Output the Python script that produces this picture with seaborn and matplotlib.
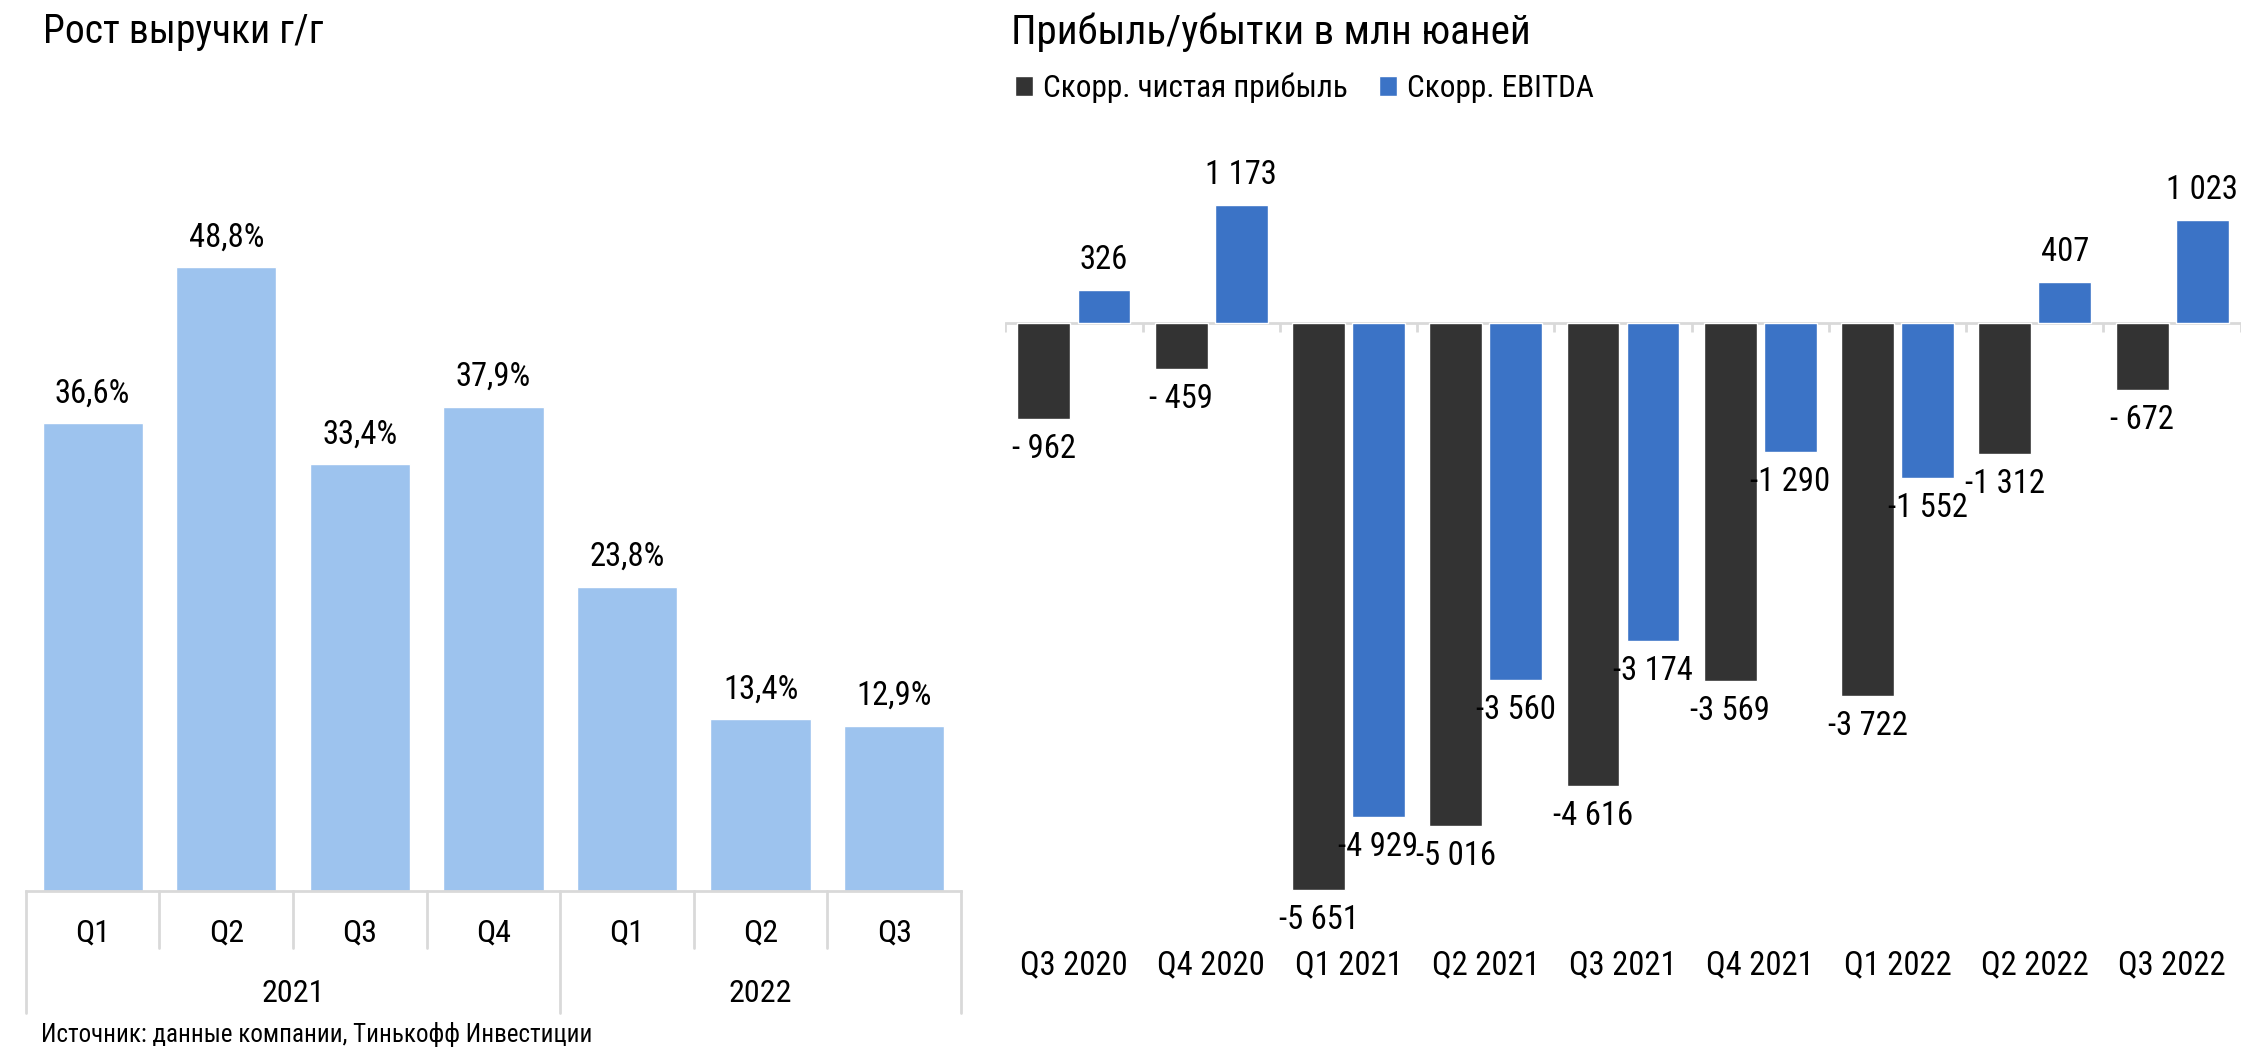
import pandas as pd
import numpy as np
import seaborn as sns
import matplotlib.pyplot as plt
from matplotlib import font_manager

# data for the left chart (revenue growth y/y)
growth_keys = ['2021 Q1', '2021 Q2', '2021 Q3', '2021 Q4', '2022 Q1', '2022 Q2', '2022 Q3']
growth_quarters = ['Q1', 'Q2', 'Q3', 'Q4', 'Q1', 'Q2', 'Q3']
growth_years = ['2021', '2022']
growth_values = [36.6, 48.8, 33.4, 37.9, 23.8, 13.4, 12.9]

# data for the right chart (profit / loss, mln yuan)
periods = ['Q3 2020', 'Q4 2020', 'Q1 2021', 'Q2 2021', 'Q3 2021', 'Q4 2021', 'Q1 2022', 'Q2 2022', 'Q3 2022']
net_profit = [-962, -459, -5651, -5016, -4616, -3569, -3722, -1312, -672]
ebitda = [326, 1173, -4929, -3560, -3174, -1290, -1552, 407, 1023]
series_names = ['Скорр. чистая прибыль', 'Скорр. EBITDA']

light_blue = '#9dc3ee'
dark = '#333333'
blue = '#3b73c6'
grid_grey = '#d9d9d9'

sns.set_style('white')
# pick a narrow font if there is one
installed = {f.name for f in font_manager.fontManager.ttflist}
preferred = ['Roboto Condensed', 'Liberation Sans Narrow', 'Open Sans Condensed', 'Roboto', 'Liberation Sans']
chosen = [f for f in preferred if f in installed][:1]
plt.rcParams['font.family'] = chosen + ['DejaVu Sans']
plt.rcParams['text.color'] = 'black'
plt.rcParams['xtick.color'] = 'black'

fig = plt.figure(figsize = (22.52, 10.64), dpi = 100)

"""Left chart"""
ax1 = fig.add_axes([0.0115, 0.163, 0.4152, 0.66])
df_growth = pd.DataFrame({'key': growth_keys, 'value': growth_values})
sns.barplot(data = df_growth, x = 'key', y = 'value', color = light_blue, width = 0.75, saturation = 1, ax = ax1)
ax1.set_ylim(0, 55)
ax1.set_xlim(-0.5, len(growth_keys) - 0.5)
ax1.set_xlabel('')
ax1.set_ylabel('')
ax1.set_yticks([])
ax1.set_xticks(range(len(growth_keys)))
ax1.set_xticklabels(growth_quarters, fontsize = 23)
ax1.tick_params(axis = 'x', length = 0, pad = 20)
for s in ['top', 'right', 'left']:
  ax1.spines[s].set_visible(False)
ax1.spines['bottom'].set_color(grid_grey)
ax1.spines['bottom'].set_linewidth(2)
ax1.bar_label(ax1.containers[0], labels = [f'{v:.1f}%'.replace('.', ',') for v in growth_values], padding = 10, fontsize = 23.5)

# separators below the axis (quarters and years)
trans = ax1.get_xaxis_transform()
for i in range(len(growth_keys) + 1):
  x = i - 0.5
  low = -0.174 if x in (-0.5, 3.5, 6.5) else -0.082
  ax1.plot([x, x], [0, low], color = grid_grey, lw = 2, transform = trans, clip_on = False)
year_centers = [1.5, 5.0]
for yc, yr in zip(year_centers, growth_years):
  ax1.text(yc, -0.146, yr, ha = 'center', va = 'center', fontsize = 23, transform = trans)

"""Right chart"""
ax2 = fig.add_axes([0.4464, 0.131, 0.5486, 0.707])
df_profit = pd.DataFrame({
  'period': periods * 2,
  'metric': [series_names[0]] * len(periods) + [series_names[1]] * len(periods),
  'value': net_profit + ebitda
})
sns.barplot(data = df_profit, x = 'period', y = 'value', hue = 'metric', hue_order = series_names,
            palette = [dark, blue], width = 0.875, gap = 0.12, saturation = 1, ax = ax2)
ax2.set_ylim(-6000, 1500)
ax2.set_xlim(-0.5, len(periods) - 0.5)
ax2.set_xlabel('')
ax2.set_ylabel('')
ax2.set_yticks([])
ax2.tick_params(axis = 'x', length = 0, pad = 18, labelsize = 23.5)
for s in ['top', 'right', 'left', 'bottom']:
  ax2.spines[s].set_visible(False)
ax2.axhline(0, color = grid_grey, lw = 2, zorder = 0)
ax2.vlines([i - 0.5 for i in range(len(periods) + 1)], -90, 0, color = grid_grey, lw = 2)

def fmt(v):
  s = f'{abs(v):,}'.replace(',', ' ')
  if v < 0:
    return '- ' + s if abs(v) < 1000 else '-' + s
  return s

for cont, vals in zip(ax2.containers, [net_profit, ebitda]):
  ax2.bar_label(cont, labels = [fmt(v) for v in vals], padding = 10, fontsize = 23.5)

handles, labels = ax2.get_legend_handles_labels()
ax2.legend(handles, labels, loc = 'upper left', bbox_to_anchor = (0.438, 0.958), bbox_transform = fig.transFigure,
           ncol = 2, frameon = False, fontsize = 22.5, handlelength = 0.6, handleheight = 0.6,
           handletextpad = 0.3, columnspacing = 1.0)

# titles and source
fig.text(0.019, 0.97, 'Рост выручки г/г', fontsize = 28.5, va = 'center', ha = 'left')
fig.text(0.449, 0.97, 'Прибыль/убытки в млн юаней', fontsize = 29.5, va = 'center', ha = 'left')
fig.text(0.018, 0.028, 'Источник: данные компании, Тинькофф Инвестиции', fontsize = 18, va = 'center', ha = 'left')

plt.savefig('out.png', dpi = 100)
